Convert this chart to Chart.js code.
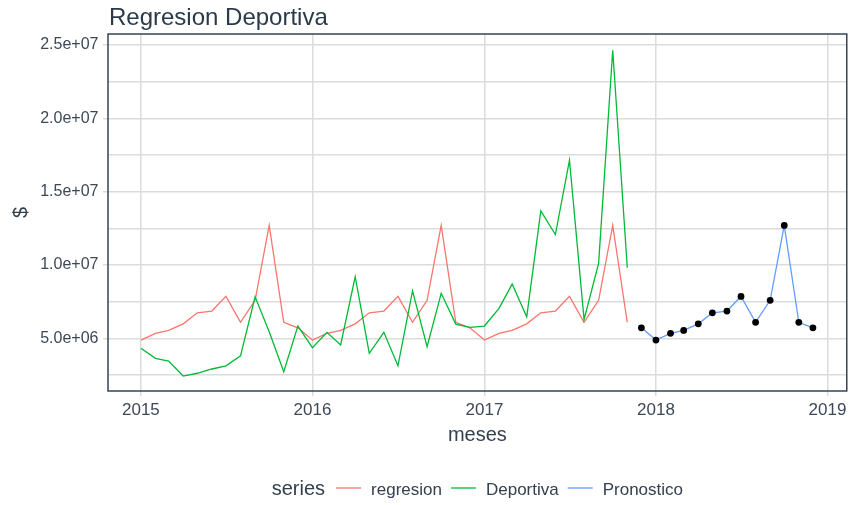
<!DOCTYPE html>
<html>
<head>
<meta charset="utf-8">
<script src="https://cdn.jsdelivr.net/npm/chart.js@4.4.1/dist/chart.umd.min.js"></script>
<style>
  html, body { margin: 0; padding: 0; background: #ffffff; }
</style>
</head>
<body>
<canvas id="grafico" width="851" height="505"></canvas>
<script>
// --- datos ---
const mesesHist = [
  '2015-01', '2015-02', '2015-03', '2015-04', '2015-05', '2015-06', '2015-07', '2015-08', '2015-09', '2015-10', '2015-11', '2015-12',
  '2016-01', '2016-02', '2016-03', '2016-04', '2016-05', '2016-06', '2016-07', '2016-08', '2016-09', '2016-10', '2016-11', '2016-12',
  '2017-01', '2017-02', '2017-03', '2017-04', '2017-05', '2017-06', '2017-07', '2017-08', '2017-09', '2017-10', '2017-11'
];
const regresion = [
  4.88e6, 5.34e6, 5.54e6, 5.99e6, 6.74e6, 6.86e6, 7.86e6, 6.09e6, 7.59e6, 12.70e6, 6.09e6, 5.72e6,
  4.88e6, 5.34e6, 5.54e6, 5.99e6, 6.74e6, 6.86e6, 7.86e6, 6.09e6, 7.59e6, 12.70e6, 6.09e6, 5.72e6,
  4.88e6, 5.34e6, 5.54e6, 5.99e6, 6.74e6, 6.86e6, 7.86e6, 6.09e6, 7.59e6, 12.70e6, 6.09e6
];
const deportiva = [
  4.32e6, 3.64e6, 3.45e6, 2.43e6, 2.62e6, 2.91e6, 3.13e6, 3.81e6, 7.83e6, 5.45e6, 2.72e6, 5.84e6,
  4.36e6, 5.41e6, 4.55e6, 9.20e6, 3.98e6, 5.41e6, 3.13e6, 8.24e6, 4.43e6, 8.07e6, 5.97e6, 5.75e6,
  5.84e6, 7.04e6, 8.70e6, 6.47e6, 13.69e6, 12.08e6, 17.15e6, 6.29e6, 10.11e6, 24.64e6, 9.81e6
];
const mesesPron = [
  '2017-12', '2018-01', '2018-02', '2018-03', '2018-04', '2018-05', '2018-06',
  '2018-07', '2018-08', '2018-09', '2018-10', '2018-11', '2018-12'
];
const pronostico = [
  5.72e6, 4.88e6, 5.34e6, 5.54e6, 5.99e6, 6.74e6, 6.86e6,
  7.86e6, 6.09e6, 7.59e6, 12.70e6, 6.09e6, 5.72e6
];
const xTickFechas = ['2015-01', '2016-01', '2017-01', '2018-01', '2019-01'];
const xTickLabels = ['2015', '2016', '2017', '2018', '2019'];
const yTicks = [2.5e6, 5e6, 7.5e6, 10e6, 12.5e6, 15e6, 17.5e6, 20e6, 22.5e6, 25e6];
const yTickLabels = ['', '5.0e+06', '', '1.0e+07', '', '1.5e+07', '', '2.0e+07', '', '2.5e+07'];

// fecha 'YYYY-MM' -> dias desde epoch
const dia = s => Date.UTC(+s.slice(0, 4), +s.slice(5, 7) - 1, 1) / 864e5;

const FUENTE = '"Liberation Sans", Arial, sans-serif';
const GRIS = '#dcdcdc';

const puntos = (meses, vals) => meses.map((m, i) => ({ x: dia(m), y: vals[i] }));

// marco del panel, titulo y leyenda (estilo ggplot)
const marco = {
  id: 'marco',
  afterDraw(chart) {
    const { ctx, chartArea: a } = chart;
    ctx.save();
    ctx.strokeStyle = '#344555';
    ctx.lineWidth = 1.5;
    ctx.strokeRect(a.left, a.top, a.right - a.left, a.bottom - a.top);

    ctx.fillStyle = '#2b3a4a';
    ctx.font = '24px ' + FUENTE;
    ctx.textBaseline = 'alphabetic';
    ctx.textAlign = 'left';
    ctx.fillText('Regresion Deportiva', 109, 25);

    // leyenda
    const sets = chart.data.datasets;
    const yLey = 488;
    ctx.font = '20px ' + FUENTE;
    const wTit = ctx.measureText('series').width;
    ctx.font = '17px ' + FUENTE;
    const anchos = sets.map(d => ctx.measureText(d.label).width);
    const total = wTit + 11 + anchos.reduce((s, w) => s + 25 + 10 + w, 0) + 9 * (sets.length - 1);
    let x = (a.left + a.right) / 2 - total / 2;
    ctx.fillStyle = '#34404e';
    ctx.font = '20px ' + FUENTE;
    ctx.fillText('series', x, 495);
    x += wTit + 11;
    ctx.font = '17px ' + FUENTE;
    sets.forEach((d, i) => {
      ctx.strokeStyle = d.borderColor;
      ctx.lineWidth = 1.3;
      ctx.beginPath();
      ctx.moveTo(x, yLey);
      ctx.lineTo(x + 25, yLey);
      ctx.stroke();
      x += 25 + 10;
      ctx.fillStyle = '#34404e';
      ctx.fillText(d.label, x, 494.5);
      x += anchos[i] + 9;
    });
    ctx.restore();
  }
};

new Chart(document.getElementById('grafico'), {
  type: 'line',
  data: {
    datasets: [
      {
        label: 'regresion',
        data: puntos(mesesHist, regresion),
        borderColor: '#F8766D',
        borderWidth: 1.3,
        pointRadius: 0,
        tension: 0,
        order: 3
      },
      {
        label: 'Deportiva',
        data: puntos(mesesHist, deportiva),
        borderColor: '#00BA38',
        borderWidth: 1.3,
        pointRadius: 0,
        tension: 0,
        order: 2
      },
      {
        label: 'Pronostico',
        data: puntos(mesesPron, pronostico),
        borderColor: '#619CFF',
        borderWidth: 1.3,
        pointRadius: 3.4,
        pointBackgroundColor: '#000000',
        pointBorderColor: '#000000',
        pointBorderWidth: 0,
        tension: 0,
        order: 1
      }
    ]
  },
  options: {
    responsive: false,
    animation: false,
    devicePixelRatio: 1,
    layout: { padding: { top: 34, right: 3, left: 0, bottom: 50 } },
    plugins: {
      legend: { display: false },
      title: { display: false },
      tooltip: { enabled: false }
    },
    scales: {
      x: {
        type: 'linear',
        min: dia('2015-01') - 70,
        max: dia('2015-01') + 1502,
        afterBuildTicks: s => { s.ticks = xTickFechas.map(f => ({ value: dia(f) })); },
        afterFit: s => { s.height = 64; },
        ticks: {
          callback: (v, i) => xTickLabels[i],
          font: { family: FUENTE, size: 17 },
          color: '#3d4857',
          padding: 4.5,
          maxRotation: 0,
          autoSkip: false
        },
        grid: { color: GRIS, lineWidth: 1.5, tickLength: 5, tickColor: GRIS },
        border: { display: false },
        title: {
          display: true,
          text: 'meses',
          font: { family: FUENTE, size: 20 },
          color: '#34404e',
          padding: { top: 0, bottom: 8 }
        }
      },
      y: {
        type: 'linear',
        min: 1.41e6,
        max: 25.75e6,
        afterBuildTicks: s => { s.ticks = yTicks.map(v => ({ value: v })); },
        afterFit: s => { s.width = 108; },
        ticks: {
          callback: (v, i) => yTickLabels[i],
          font: { family: FUENTE, size: 16 },
          color: '#3d4857',
          padding: 4.5,
          autoSkip: false
        },
        grid: {
          color: GRIS,
          lineWidth: 1.5,
          tickLength: 5,
          tickColor: c => (yTickLabels[c.index] ? GRIS : 'rgba(0,0,0,0)')
        },
        border: { display: false },
        title: {
          display: true,
          text: '$',
          font: { family: FUENTE, size: 20 },
          color: '#34404e',
          padding: { top: 9, bottom: 0 }
        }
      }
    }
  },
  plugins: [marco]
});
</script>
</body>
</html>
